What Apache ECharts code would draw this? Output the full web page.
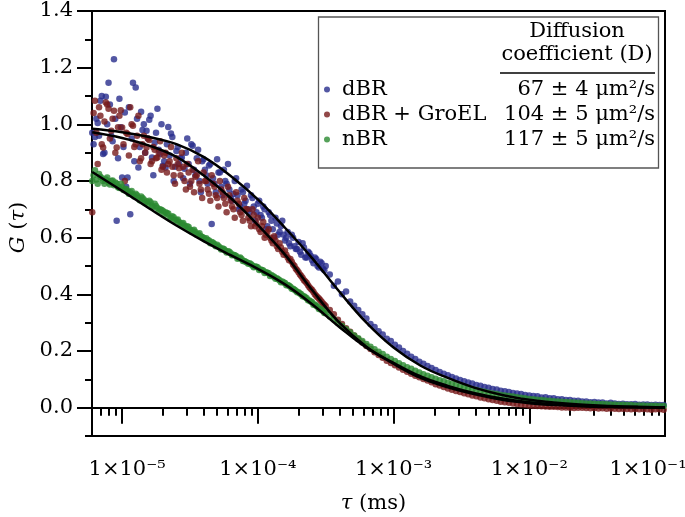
<!DOCTYPE html>
<html><head><meta charset="utf-8">
<script src="https://cdn.jsdelivr.net/npm/echarts@6/dist/echarts.min.js"></script>
<style>html,body{margin:0;padding:0;background:#fff}#c{width:685px;height:517px}</style>
</head><body><div id="c"></div>
<script>
// lag time grid, log10(tau / ms)
const tauLog10 = [
-5.22,-5.21,-5.2,-5.19,-5.18,-5.17,-5.16,-5.15,-5.14,-5.13,
-5.12,-5.11,-5.1,-5.09,-5.08,-5.07,-5.06,-5.05,-5.04,-5.03,
-5.02,-5.01,-5,-4.99,-4.98,-4.97,-4.96,-4.95,-4.94,-4.93,
-4.92,-4.91,-4.9,-4.89,-4.88,-4.87,-4.86,-4.85,-4.84,-4.83,
-4.82,-4.81,-4.8,-4.79,-4.78,-4.77,-4.76,-4.75,-4.74,-4.73,
-4.72,-4.71,-4.7,-4.69,-4.68,-4.67,-4.66,-4.65,-4.64,-4.63,
-4.62,-4.61,-4.6,-4.59,-4.58,-4.57,-4.56,-4.55,-4.54,-4.53,
-4.52,-4.51,-4.5,-4.49,-4.48,-4.47,-4.46,-4.45,-4.44,-4.43,
-4.42,-4.41,-4.4,-4.39,-4.38,-4.37,-4.36,-4.35,-4.34,-4.33,
-4.32,-4.31,-4.3,-4.29,-4.28,-4.27,-4.26,-4.25,-4.24,-4.23,
-4.22,-4.21,-4.2,-4.19,-4.18,-4.17,-4.16,-4.15,-4.14,-4.13,
-4.12,-4.11,-4.1,-4.09,-4.08,-4.07,-4.06,-4.05,-4.04,-4.03,
-4.02,-4.01,-4,-3.99,-3.98,-3.97,-3.96,-3.95,-3.94,-3.93,
-3.92,-3.91,-3.9,-3.89,-3.88,-3.87,-3.86,-3.85,-3.84,-3.83,
-3.82,-3.81,-3.8,-3.79,-3.78,-3.77,-3.76,-3.75,-3.74,-3.73,
-3.72,-3.71,-3.7,-3.69,-3.68,-3.67,-3.66,-3.65,-3.64,-3.63,
-3.62,-3.61,-3.6,-3.59,-3.58,-3.57,-3.56,-3.55,-3.54,-3.53,
-3.52,-3.51,-3.5,
-3.47,-3.44,-3.41,-3.38,-3.35,-3.32,-3.29,-3.26,-3.23,-3.2,
-3.17,-3.14,-3.11,-3.08,-3.05,-3.02,-2.99,-2.96,-2.93,-2.9,
-2.87,-2.84,-2.81,-2.78,-2.75,-2.72,-2.69,-2.66,-2.63,-2.6,
-2.57,-2.54,-2.51,-2.48,-2.45,-2.42,-2.39,-2.36,-2.33,-2.3,
-2.27,-2.24,-2.21,-2.18,-2.15,-2.12,-2.09,-2.06,-2.03,-2,
-1.97,-1.94,-1.91,-1.88,-1.85,-1.82,-1.79,-1.76,-1.73,-1.7,
-1.67,-1.64,-1.61,-1.58,-1.55,-1.52,-1.49,-1.46,-1.43,-1.4,
-1.37,-1.34,-1.31,-1.28,-1.25,-1.22,-1.19,-1.16,-1.13,-1.1,
-1.07,-1.04,-1.01
];
const gDBR = [
0.97,0.93,0.955,1.02,1.005,0.96,1.083,1.10,0.895,0.90,
1.097,1.00,1.147,1.07,0.96,0.94,1.23,1.02,0.66,0.88,
1.09,0.99,0.812,0.92,1.042,0.78,0.812,1.06,0.683,0.95,
1.147,0.87,1.13,1.02,0.848,0.92,1.044,0.98,1.0,0.90,
0.977,0.95,1.016,1.03,0.883,0.82,0.935,0.97,1.055,0.91,
0.895,1.0,0.854,0.87,0.848,0.93,0.991,0.89,0.968,0.955,
0.8,0.85,0.906,0.92,0.86,0.88,0.883,0.81,0.843,0.9,
0.95,0.86,0.79,0.93,0.924,0.84,0.82,0.88,0.91,0.8,
0.76,0.87,0.877,0.84,0.82,0.79,0.855,0.86,0.648,0.81,
0.79,0.76,0.877,0.83,0.83,0.78,0.75,0.84,0.8,0.79,
0.86,0.77,0.74,0.73,0.754,0.8,0.81,0.75,0.7,0.71,
0.77,0.76,0.72,0.73,0.783,0.7,0.69,0.75,0.74,0.71,
0.66,0.69,0.72,0.73,0.68,0.67,0.71,0.7,0.63,0.64,
0.69,0.68,0.66,0.63,0.6,0.67,0.65,0.61,0.62,0.64,
0.66,0.61,0.59,0.6,0.62,0.58,0.57,0.61,0.6,0.57,
0.56,0.56,0.585,0.55,0.54,0.58,0.565,0.53,0.53,0.55,
0.545,0.535,0.52,0.51,0.53,0.525,0.5,0.495,0.515,0.51,
0.49,0.485,0.5,
0.47,0.43,0.445,0.4,0.41,0.375,0.36,0.345,0.33,0.315,
0.295,0.285,0.27,0.258,0.243,0.235,0.222,0.212,0.2,0.19,
0.18,0.172,0.162,0.155,0.147,0.14,0.133,0.126,0.12,0.114,
0.108,0.103,0.098,0.093,0.089,0.085,0.08,0.077,0.073,0.07,
0.066,0.064,0.06,0.058,0.055,0.052,0.05,0.048,0.045,0.043,
0.041,0.04,0.036,0.037,0.033,0.033,0.03,0.03,0.027,0.027,
0.024,0.024,0.022,0.022,0.019,0.02,0.018,0.018,0.015,0.017,
0.015,0.013,0.014,0.012,0.012,0.013,0.01,0.011,0.011,0.009,
0.01,0.009,0.009
];
const gDBRGroEL = [
0.69,1.04,1.083,0.97,0.86,1.06,1.03,0.93,0.918,1.01,
1.077,1.07,1.055,0.95,0.977,1.02,1.048,0.9,0.918,0.99,
1.03,1.05,0.989,0.93,0.8,0.97,0.966,0.89,1.06,1.0,
0.995,0.92,0.93,0.96,1.03,0.87,0.88,0.93,0.96,0.9,
0.918,0.95,0.945,0.86,0.87,0.92,0.91,0.88,0.883,0.9,
0.94,0.84,0.85,0.89,0.9,0.83,0.86,0.87,0.92,0.85,
0.82,0.79,0.88,0.86,0.845,0.82,0.9,0.85,0.8,0.77,
0.86,0.83,0.78,0.8,0.84,0.76,0.815,0.82,0.87,0.79,
0.77,0.74,0.83,0.8,0.8,0.77,0.755,0.73,0.82,0.79,
0.78,0.75,0.74,0.71,0.8,0.77,0.76,0.74,0.72,0.69,
0.78,0.75,0.73,0.71,0.7,0.67,0.76,0.73,0.72,0.69,
0.68,0.66,0.74,0.7,0.7,0.67,0.66,0.64,0.7,0.68,
0.64,0.65,0.67,0.63,0.62,0.64,0.655,0.6,0.61,0.62,
0.63,0.6,0.59,0.58,0.605,0.59,0.57,0.56,0.58,0.565,
0.55,0.54,0.555,0.54,0.53,0.52,0.525,0.515,0.505,0.5,
0.49,0.485,0.478,0.47,0.465,0.458,0.45,0.445,0.44,0.432,
0.425,0.42,0.415,0.408,0.4,0.395,0.39,0.385,0.38,0.374,
0.368,0.363,0.358,
0.345,0.33,0.31,0.295,0.28,0.268,0.255,0.242,0.23,0.218,
0.207,0.196,0.186,0.176,0.166,0.158,0.15,0.142,0.134,0.127,
0.12,0.113,0.107,0.101,0.096,0.09,0.083,0.078,0.073,0.068,
0.063,0.059,0.055,0.051,0.047,0.043,0.04,0.036,0.033,0.03,
0.027,0.024,0.021,0.019,0.017,0.015,0.013,0.011,0.01,0.008,
0.007,0.006,0.005,0.004,0.003,0.003,0.002,0.001,0.001,0.0,
-0.001,0.0,0.0,-0.001,-0.002,-0.001,-0.003,-0.002,-0.004,-0.003,
-0.004,-0.005,-0.004,-0.005,-0.006,-0.005,-0.006,-0.005,-0.006,-0.007,
-0.006,-0.006,-0.007
];
const gNBR = [
0.8,0.82,0.838,0.805,0.79,0.825,0.815,0.81,0.8,0.79,
0.805,0.812,0.795,0.788,0.8,0.802,0.785,0.795,0.79,0.778,
0.775,0.79,0.78,0.768,0.77,0.772,0.765,0.755,0.76,0.765,
0.752,0.745,0.755,0.75,0.74,0.732,0.745,0.74,0.735,0.722,
0.728,0.718,0.73,0.725,0.712,0.708,0.72,0.712,0.705,0.692,
0.7,0.698,0.695,0.68,0.69,0.686,0.685,0.668,0.67,0.676,
0.672,0.66,0.662,0.664,0.655,0.646,0.65,0.652,0.643,0.635,
0.64,0.638,0.628,0.622,0.625,0.628,0.62,0.61,0.612,0.616,
0.605,0.602,0.6,0.594,0.598,0.592,0.59,0.58,0.585,0.582,
0.578,0.57,0.575,0.57,0.565,0.558,0.562,0.56,0.555,0.548,
0.552,0.55,0.545,0.538,0.54,0.538,0.535,0.526,0.528,0.53,
0.525,0.518,0.518,0.515,0.512,0.508,0.51,0.506,0.502,0.496,
0.498,0.497,0.495,0.486,0.488,0.486,0.484,0.475,0.478,0.476,
0.474,0.465,0.468,0.464,0.462,0.455,0.457,0.453,0.45,0.443,
0.445,0.442,0.44,0.432,0.433,0.43,0.427,0.42,0.42,0.416,
0.413,0.407,0.407,0.403,0.4,0.393,0.393,0.39,0.386,0.379,
0.378,0.375,0.372,0.363,0.364,0.36,0.356,0.348,0.349,0.345,
0.341,0.334,0.334,
0.322,0.311,0.299,0.288,0.277,0.266,0.255,0.245,0.235,0.225,
0.215,0.206,0.197,0.189,0.18,0.172,0.165,0.157,0.15,0.143,
0.137,0.13,0.124,0.118,0.113,0.107,0.102,0.097,0.093,0.088,
0.084,0.08,0.076,0.072,0.069,0.065,0.062,0.059,0.056,0.053,
0.05,0.048,0.045,0.043,0.041,0.039,0.037,0.035,0.033,0.031,
0.03,0.028,0.027,0.025,0.024,0.023,0.022,0.021,0.02,0.019,
0.018,0.017,0.016,0.015,0.015,0.014,0.013,0.013,0.012,0.011,
0.011,0.01,0.01,0.009,0.009,0.008,0.008,0.008,0.007,0.007,
0.007,0.006,0.006
];
// fitted curves (read at coarser lag grid)
const fitTauLog10 = [-5.22,-5,-4.8,-4.6,-4.4,-4.2,-4,-3.8,-3.6,-3.4,-3.2,-3,-2.8,-2.6,-2.4,-2.2,-2,-1.8,-1.6,-1.4,-1.2,-1];
const fitDBR      = [0.984,0.972,0.955,0.93,0.885,0.818,0.735,0.635,0.528,0.41,0.3,0.212,0.148,0.105,0.07,0.045,0.028,0.017,0.01,0.006,0.003,0.001];
const fitDBRGroEL = [0.972,0.952,0.925,0.885,0.82,0.74,0.645,0.54,0.415,0.3,0.215,0.155,0.105,0.072,0.047,0.028,0.016,0.009,0.005,0.002,0.001,0.0];
const fitNBR      = [0.832,0.765,0.703,0.643,0.588,0.538,0.49,0.435,0.365,0.285,0.212,0.158,0.11,0.077,0.051,0.032,0.019,0.011,0.006,0.003,0.002,0.001];

const seriesNames = ['dBR', 'dBR + GroEL', 'nBR'];
const diffCoeffs = ['67 ± 4 μm²/s', '104 ± 5 μm²/s', '117 ± 5 μm²/s'];
const xMajorExp = [-5, -4, -3, -2, -1];
const yTickValues = [0, 0.2, 0.4, 0.6, 0.8, 1.0, 1.2, 1.4];
const yMinorValues = [-0.1, 0.1, 0.3, 0.5, 0.7, 0.9, 1.1, 1.3];
const xMinValue = 6e-6, xMaxValue = 1e-1;

const FONT = 'DejaVu Serif';
const colors = ['#282d8c', '#771a1a', '#2b8a31'];
const xMin = Math.log10(xMinValue), xMax = Math.log10(xMaxValue);
const supMap = {'-':'⁻','0':'⁰','1':'¹','2':'²','3':'³','4':'⁴','5':'⁵','6':'⁶','7':'⁷','8':'⁸','9':'⁹'};
const sup = s => String(s).split('').map(c => supMap[c] || c).join('');

const xMinor = [];
for (let n = -6; n <= -2; n++) for (let k = 2; k <= 9; k++) {
  const v = n + Math.log10(k);
  if (v >= xMin - 1e-9 && v <= xMax + 1e-9) xMinor.push(v);
}
const pts = g => tauLog10.map((t, i) => [t, g[i]]).filter(p => p[1] !== undefined);
const fitPts = g => fitTauLog10.map((t, i) => [t, g[i]]);

const chart = echarts.init(document.getElementById('c'), null, {renderer: 'canvas'});
const axisBase = {type: 'value', min: xMin, max: xMax, splitLine: {show: false}};
const fitLine = (name, g) => ({name, type: 'line', data: fitPts(g), showSymbol: false, smooth: 0.4,
  lineStyle: {color: '#000', width: 2.5}, z: 5, silent: true});
chart.setOption({
  animation: false,
  backgroundColor: '#fff',
  grid: {left: 92, right: 20, top: 11, bottom: 81, containLabel: false, outerBoundsMode: 'none',
    show: true, borderColor: '#000', borderWidth: 2, backgroundColor: 'transparent'},
  xAxis: [
    Object.assign({}, axisBase, {
      position: 'bottom',
      axisLine: {show: true, lineStyle: {color: '#000', width: 2}},
      axisTick: {show: true, inside: false, length: 16, lineStyle: {color: '#000', width: 2}, customValues: xMajorExp},
      axisLabel: {
        show: true, margin: 23, color: '#000', fontFamily: FONT, fontSize: 21,
        customValues: xMajorExp,
        formatter: v => {
          const e = Math.round(v);
          const t = '1×10' + sup(e);
          if (e === -5) return '{f|' + t + '}';
          if (e === -1) return '{l|' + t + '}';
          return t;
        },
        rich: {
          f: {fontFamily: FONT, fontSize: 21, color: '#000', padding: [0, 0, 0, 10]},
          l: {fontFamily: FONT, fontSize: 21, color: '#000', padding: [0, 34, 0, 0]}
        }
      },
      name: '{i|τ} (ms)', nameLocation: 'middle', nameGap: 57,
      nameTextStyle: {fontFamily: FONT, fontSize: 21, color: '#000', padding: [0, 10, 0, 0],
        rich: {i: {fontFamily: FONT, fontSize: 21, fontStyle: 'italic', color: '#000'}}}
    }),
    Object.assign({}, axisBase, {
      position: 'bottom',
      axisLine: {show: false},
      axisTick: {show: true, inside: false, length: 8, lineStyle: {color: '#000', width: 2}, customValues: xMinor},
      axisLabel: {show: false}
    })
  ],
  yAxis: [
    {
      type: 'value', min: -0.1, max: 1.4, position: 'left', splitLine: {show: false},
      axisLine: {show: true, lineStyle: {color: '#000', width: 2}},
      axisTick: {show: true, inside: false, length: 15, lineStyle: {color: '#000', width: 2}, customValues: yTickValues},
      axisLabel: {show: true, margin: 19, color: '#000', fontFamily: FONT, fontSize: 21,
        customValues: yTickValues, formatter: v => v.toFixed(1)},
      name: '{i|G} ({i|τ})', nameLocation: 'middle', nameGap: 60,
      nameTextStyle: {fontFamily: FONT, fontSize: 21, color: '#000', padding: [0, 8, 0, 0],
        rich: {i: {fontFamily: FONT, fontSize: 21, fontStyle: 'italic', color: '#000'}}}
    },
    {
      type: 'value', min: -0.1, max: 1.4, position: 'left', splitLine: {show: false},
      axisLine: {show: false},
      axisTick: {show: true, inside: false, length: 7, lineStyle: {color: '#000', width: 2}, customValues: yMinorValues},
      axisLabel: {show: false}
    }
  ],
  legend: {
    data: seriesNames.map(n => ({name: n, icon: 'circle'})),
    orient: 'vertical', left: 324, top: 77, itemGap: 0, itemWidth: 6, itemHeight: 6, padding: 0,
    selectedMode: false,
    formatter: name => {
      const i = seriesNames.indexOf(name);
      return '{s| }{n|' + name + '}{v|' + diffCoeffs[i] + '}';
    },
    textStyle: {
      fontFamily: FONT, fontSize: 21, color: '#000', lineHeight: 25,
      rich: {
        s: {width: 7, fontFamily: FONT, fontSize: 21, lineHeight: 25},
        n: {width: 160, fontFamily: FONT, fontSize: 21, lineHeight: 25, color: '#000'},
        v: {width: 153, align: 'right', fontFamily: FONT, fontSize: 21, lineHeight: 25, color: '#000'}
      }
    }
  },
  graphic: [
    {type: 'rect', shape: {x: 318.5, y: 17, width: 340, height: 151}, style: {fill: 'transparent', stroke: '#555', lineWidth: 1.3}, z: 10},
    {type: 'text', x: 577, y: 32, style: {text: 'Diffusion', font: '21px "DejaVu Serif"', fill: '#000', align: 'center', verticalAlign: 'middle'}, z: 10},
    {type: 'text', x: 577, y: 55, style: {text: 'coefficient (D)', font: '21px "DejaVu Serif"', fill: '#000', align: 'center', verticalAlign: 'middle'}, z: 10},
    {type: 'line', shape: {x1: 500, y1: 73, x2: 655, y2: 73}, style: {stroke: '#000', lineWidth: 1.5}, z: 10}
  ],
  series: [
    {name: seriesNames[0], type: 'scatter', data: pts(gDBR), symbolSize: 6.5, itemStyle: {color: colors[0]}, z: 2},
    {name: seriesNames[1], type: 'scatter', data: pts(gDBRGroEL), symbolSize: 6.5, itemStyle: {color: colors[1]}, z: 3},
    {name: seriesNames[2], type: 'scatter', data: pts(gNBR), symbolSize: 6.5, itemStyle: {color: colors[2]}, z: 4},
    fitLine('fit dBR', fitDBR),
    fitLine('fit dBR + GroEL', fitDBRGroEL),
    fitLine('fit nBR', fitNBR)
  ]
});
</script>
</body></html>
